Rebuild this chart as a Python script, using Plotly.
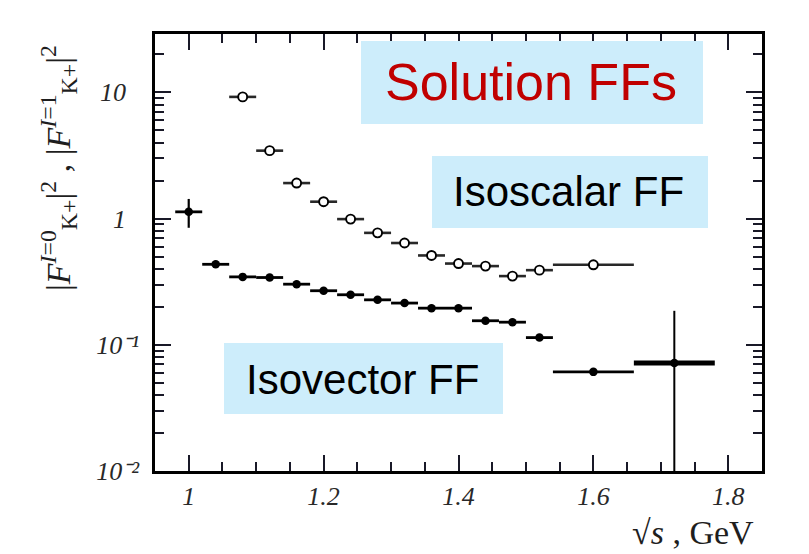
import plotly.graph_objects as go

# ---------------- data ----------------
# Isoscalar FF (open circles)
is_x = [1.08, 1.12, 1.16, 1.20, 1.24, 1.28, 1.32, 1.36, 1.40, 1.44, 1.48, 1.52, 1.60]
is_y = [9.2, 3.45, 1.91, 1.36, 0.99, 0.77, 0.64, 0.51, 0.44, 0.42, 0.35, 0.39, 0.43]
is_xerr = [0.02] * 12 + [0.06]

# Isovector FF (filled circles)
iv_x = [1.00, 1.04, 1.08, 1.12, 1.16, 1.20, 1.24, 1.28, 1.32, 1.36, 1.40, 1.44, 1.48, 1.52, 1.60]
iv_y = [1.13, 0.434, 0.345, 0.341, 0.302, 0.268, 0.249, 0.227, 0.214, 0.195, 0.195, 0.155, 0.151, 0.114, 0.061]
iv_xerr = [0.02] * 14 + [0.06]
iv_yerr_up = [0.30] + [0.0] * 14
iv_yerr_dn = [0.285] + [0.0] * 14

# last isovector bin (large uncertainty)
iv_last_x = [1.72]
iv_last_y = [0.0718]
iv_last_xerr = [0.06]
iv_last_yerr_up = [0.114]
iv_last_yerr_dn = [0.0668]

x_tickvals = [1.0, 1.2, 1.4, 1.6, 1.8]
x_ticktext = ["1", "1.2", "1.4", "1.6", "1.8"]
y_tickvals = [0.01, 0.1, 1, 10]
y_ticktext = ["10\u207b\u00b2", "10\u207b\u00b9", "1\u2002", "10\u2002"]

X_RANGE = [0.95, 1.85]
Y_RANGE = [-2, 1.462]
TICK_COLOR = "rgb(25,25,40)"

# ---------------- layout helpers ----------------
W, H = 809, 554
L, R, T, B = 155, 47, 34, 83
PW, PH = W - L - R, H - T - B


def px(xp):
    return (xp - L) / PW


def py(yp):
    return (H - B - yp) / PH


fig = go.Figure()

fig.add_trace(go.Scatter(
    x=is_x, y=is_y, mode="markers",
    marker=dict(symbol="circle", size=9, color="white", line=dict(color="black", width=1.9)),
    error_x=dict(type="data", array=is_xerr, color="rgb(40,40,40)", thickness=2.6, width=0),
    showlegend=False,
))
fig.add_trace(go.Scatter(
    x=iv_x, y=iv_y, mode="markers",
    marker=dict(symbol="circle", size=8.5, color="black"),
    error_x=dict(type="data", array=iv_xerr, color="black", thickness=2.8, width=0),
    error_y=dict(type="data", array=iv_yerr_up, arrayminus=iv_yerr_dn, symmetric=False,
                 color="black", thickness=2.2, width=0),
    showlegend=False,
))
fig.add_trace(go.Scatter(
    x=iv_last_x, y=iv_last_y, mode="markers",
    marker=dict(symbol="circle", size=8.5, color="black"),
    error_x=dict(type="data", array=iv_last_xerr, color="black", thickness=5, width=0),
    error_y=dict(type="data", array=iv_last_yerr_up, arrayminus=iv_last_yerr_dn, symmetric=False,
                 color="black", thickness=2, width=0),
    showlegend=False,
))
# empty trace carrying the minor-tick overlay axes
fig.add_trace(go.Scatter(x=[], y=[], xaxis="x2", yaxis="y2", showlegend=False, hoverinfo="skip"))

box_color = "rgb(205,237,251)"
boxes = [
    (361, 41, 703, 124),
    (432, 156, 708, 228),
    (224, 343, 503, 414),
]
for (x0, y0, x1, y1) in boxes:
    fig.add_shape(type="rect", xref="paper", yref="paper",
                  x0=px(x0), x1=px(x1), y0=py(y1), y1=py(y0),
                  fillcolor=box_color, line=dict(width=0), layer="above")

fig.add_annotation(text="Solution FFs", xref="paper", yref="paper",
                   x=px(531), y=py(82), xanchor="center", yanchor="middle", showarrow=False,
                   font=dict(family="Liberation Sans, Arial", size=52, color="rgb(192,0,0)"))
fig.add_annotation(text="Isoscalar FF", xref="paper", yref="paper",
                   x=px(568), y=py(192), xanchor="center", yanchor="middle", showarrow=False,
                   font=dict(family="Liberation Sans, Arial", size=42, color="black"))
fig.add_annotation(text="Isovector FF", xref="paper", yref="paper",
                   x=px(362), y=py(379), xanchor="center", yanchor="middle", showarrow=False,
                   font=dict(family="Liberation Sans, Arial", size=42, color="black"))

# axis titles
fig.add_annotation(text="√<i>s</i> , GeV", xref="paper", yref="paper",
                   x=px(756), y=py(532), xanchor="right", yanchor="middle", showarrow=False,
                   font=dict(family="Liberation Serif, Times New Roman", size=34, color="rgb(30,30,30)"))
fig.add_annotation(
    text="|<i>F</i><sup><i>I</i>=0</sup><sub>K+</sub>|<sup>2</sup> , |<i>F</i><sup><i>I</i>=1</sup><sub>K+</sub>|<sup>2</sup>",
    xref="paper", yref="paper", x=px(58), y=py(168), xanchor="center", yanchor="middle",
    textangle=-90, showarrow=False,
    font=dict(family="Liberation Serif, Times New Roman", size=34, color="rgb(30,30,30)"))

x_minor = [round(0.95 + 0.05 * i, 2) for i in range(19)]
y_minor = [m * 10 ** e for e in (-2, -1, 0, 1) for m in range(2, 10) if m * 10 ** e < 29]

tick_font = dict(family="Liberation Serif, Times New Roman", size=26, color="rgb(40,40,40)", style="italic")

fig.update_layout(
    width=W, height=H,
    margin=dict(l=L, r=R, t=T, b=B),
    plot_bgcolor="white", paper_bgcolor="white",
    xaxis=dict(
        range=X_RANGE, gridcolor="white",
        showline=True, linecolor="black", linewidth=2.5, mirror="ticks",
        ticks="inside", ticklen=16, tickwidth=2, tickcolor=TICK_COLOR,
        tickmode="array", tickvals=x_tickvals, ticktext=x_ticktext,
        tickfont=tick_font,
    ),
    yaxis=dict(
        type="log", range=Y_RANGE, gridcolor="white",
        showline=True, linecolor="black", linewidth=2.5, mirror="ticks",
        ticks="inside", ticklen=16, tickwidth=2, tickcolor=TICK_COLOR,
        tickmode="array", tickvals=y_tickvals, ticktext=y_ticktext,
        tickfont=tick_font, ticklabelstandoff=8,
    ),
    xaxis2=dict(
        overlaying="x", range=X_RANGE, gridcolor="white",
        showline=True, linecolor="black", linewidth=2.5, mirror="ticks",
        ticks="inside", ticklen=9, tickwidth=1.6, tickcolor=TICK_COLOR,
        tickmode="array", tickvals=x_minor, showticklabels=False,
    ),
    yaxis2=dict(
        overlaying="y", type="log", range=Y_RANGE, gridcolor="white",
        showline=True, linecolor="black", linewidth=2.5, mirror="ticks",
        ticks="inside", ticklen=9, tickwidth=1.6, tickcolor=TICK_COLOR,
        tickmode="array", tickvals=y_minor, showticklabels=False,
    ),
)

fig.write_html("out.html")
